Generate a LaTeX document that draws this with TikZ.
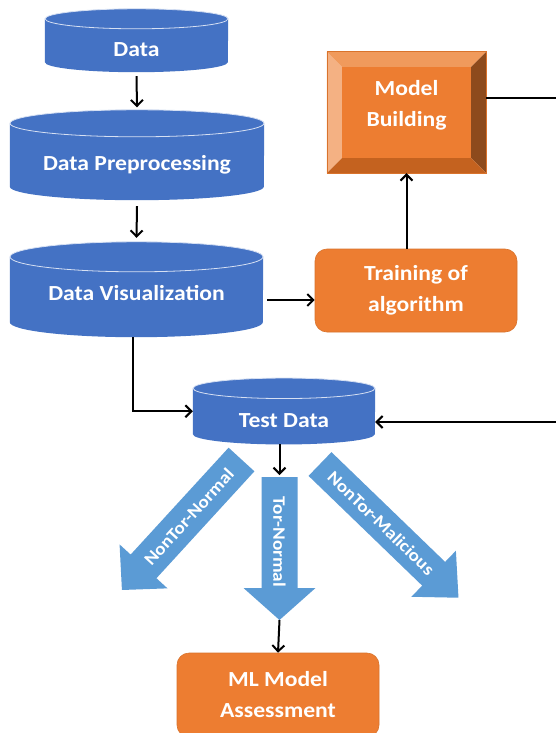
\documentclass[tikz,border=0pt]{standalone}
\usepackage{fontspec}
\newfontfamily\labelfont{Carlito}[FakeStretch=1.1]
\usetikzlibrary{arrows.meta}
\pgfdeclarelayer{bg}
\pgfsetlayers{bg,main}

\definecolor{cylblue}{HTML}{4472C4}
\definecolor{cylrim}{HTML}{D6E0F3}
\definecolor{flowblue}{HTML}{5B9BD5}
\definecolor{boxorange}{HTML}{ED7D31}
\definecolor{boxedge}{HTML}{D9732C}
\definecolor{bevlight}{HTML}{F4B183}
\definecolor{bevtop}{HTML}{F09A5C}
\definecolor{bevdark}{HTML}{8D4A1C}
\definecolor{bevbottom}{HTML}{C4621F}

\tikzset{
  lbl/.style={text=white, font=\labelfont\fontsize{21.5pt}{31pt}\bfseries\selectfont},
  cylnode/.style={lbl, rectangle, inner sep=0pt, text depth=0pt},
  roundbox/.style={lbl, rectangle, rounded corners=12pt, fill=boxorange,
    draw=boxedge, line width=0.6pt, align=center, inner sep=0pt},
  bevelnode/.style={lbl, rectangle, inner sep=0pt},
  flowlbl/.style={text=white, inner sep=0pt,
    font=\labelfont\fontsize{17.5pt}{20pt}\bfseries\selectfont},
  conn/.style={line width=2pt, -{Straight Barb[length=6pt,width=12pt]}},
  link/.style={line width=2pt},
}

% cylinder drawn behind a node: node name, x radius, y radius (pt)
\newcommand\cylshape[3]{%
  \begin{pgfonlayer}{bg}
    \fill[cylblue] (#1.north west) -- (#1.south west)
      arc[start angle=180, end angle=360, x radius=#2pt, y radius=#3pt]
      -- (#1.north east)
      arc[start angle=0, end angle=180, x radius=#2pt, y radius=#3pt] -- cycle;
    \draw[cylrim, line width=0.8pt] (#1.north) ellipse [x radius=#2pt, y radius=#3pt];
  \end{pgfonlayer}}

% block arrow along the local x axis: shaft length, head length, shaft half width, head half width
\newcommand\flowpath[4]{%
  \fill[flowblue] (0,-#3) -- (#1,-#3) -- (#1,-#4) -- ({#1+#2},0) -- (#1,#4)
    -- (#1,#3) -- (0,#3) -- cycle;}

\begin{document}
\begin{tikzpicture}[x=1pt, y=-1pt]
\useasboundingbox (0,0) rectangle (555,733);
\begin{pgfonlayer}{bg}
  \fill[white] (0,0) rectangle (555,733);
\end{pgfonlayer}

% data stores
\node[cylnode, minimum width=183pt, minimum height=43pt, text height=32.6pt] (data) at (136.5,40.5) {Data};
\cylshape{data}{91.5}{10}
\node[cylnode, minimum width=254pt, minimum height=63pt, text height=30.6pt] (prep) at (137,155) {Data Preprocessing};
\cylshape{prep}{127}{13.5}
\node[cylnode, minimum width=253pt, minimum height=65pt, text height=22.6pt] (vis) at (136.5,289.5) {Data Visualization};
\cylshape{vis}{126.5}{15}
\node[cylnode, minimum width=182pt, minimum height=45.5pt, text height=32.1pt] (test) at (284,411.25) {Test Data};
\cylshape{test}{91}{10.25}

% process boxes
\node[roundbox, minimum width=202pt, minimum height=83pt] (train) at (416,290.5) {Training of\\algorithm};
\node[roundbox, minimum width=202pt, minimum height=84pt] (ml) at (278,695) {ML Model\\Assessment};

% bevelled model box
\node[bevelnode, minimum width=159pt, minimum height=121pt] (mb) at (406.5,112.5)
  {\raisebox{2.4pt}[0pt][0pt]{\begin{tabular}{@{}c@{}}Model\\Building\end{tabular}}};
\begin{pgfonlayer}{bg}
  \coordinate (iNW) at ([shift={(15,15)}]mb.north west);
  \coordinate (iNE) at ([shift={(-15,15)}]mb.north east);
  \coordinate (iSW) at ([shift={(15,-15)}]mb.south west);
  \coordinate (iSE) at ([shift={(-15,-15)}]mb.south east);
  \fill[bevlight] (mb.north west) -- (mb.south west) -- (iSW) -- (iNW) -- cycle;
  \fill[bevtop] (mb.north west) -- (mb.north east) -- (iNE) -- (iNW) -- cycle;
  \fill[bevdark] (mb.north east) -- (mb.south east) -- (iSE) -- (iNE) -- cycle;
  \fill[bevbottom] (mb.south west) -- (mb.south east) -- (iSE) -- (iSW) -- cycle;
  \fill[boxorange] (iNW) rectangle (iSE);
  \draw[boxedge, line width=0.6pt] (mb.north west) rectangle (mb.south east);
\end{pgfonlayer}

% class arrows leaving the test data
\begin{scope}[shift={(279.5,477)}, rotate=-90]
  \flowpath{111}{32}{18}{36}
  \coordinate (torTop) at (0,0);
  \coordinate (torTip) at (143,0);
  \node[flowlbl, transform shape] (torText) at (65,0) {Tor-Normal};
\end{scope}
\begin{scope}[shift={(241.5,459.5)}, rotate=-132.5]
  \flowpath{145}{32}{17.5}{32.5}
  \node[flowlbl, transform shape, rotate=180] (ntnText) at (78,0) {NonTor-Normal};
\end{scope}
\begin{scope}[shift={(320,464)}, rotate=-44]
  \flowpath{158}{34.5}{16.5}{32}
  \node[flowlbl, transform shape] (ntmText) at (85,0) {NonTor-Malicious};
\end{scope}

% connectors
\coordinate (rt) at (557,98);
\coordinate (rb) at (557,422);
\coordinate (tdb) at ([yshift=-10pt]test.south);

\draw[conn] ([yshift=-14pt]data.south) -- ([yshift=16pt]prep.north);
\draw[conn] ([yshift=-19.5pt]prep.south) -- ([yshift=19pt]vis.north);
\draw[conn] ([shift={(-4,15)}]vis.south) |- (test.west);
\draw[conn] ([shift={(4,10.5)}]vis.east) coordinate (v) -- (v -| train.west);
\draw[conn] (mb.south |- train.north) -- (mb.south);
\draw[link] ([yshift=14.5pt]mb.east) -- (rt);
\draw[conn] (rb) -- (rb -| test.east);
\draw[conn, shorten >=2pt] (tdb -| torTop) -- (torTop);
\draw[conn] (torTip) -- (ml.north);
\end{tikzpicture}
\end{document}
